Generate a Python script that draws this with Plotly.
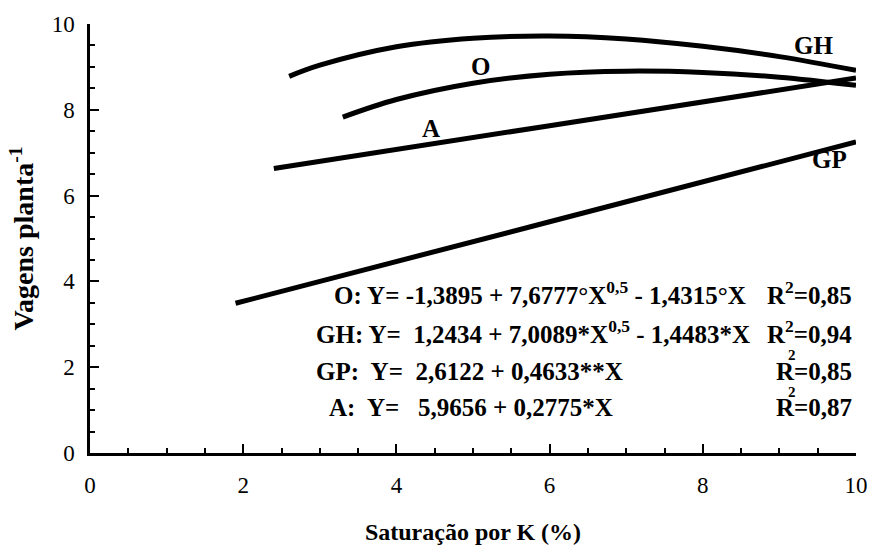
import plotly.graph_objects as go

# Values
gh_x = [2.6, 3, 4, 5, 6, 7, 8, 9, 10]
gh_y = [8.78, 9.04, 9.47, 9.67, 9.72, 9.65, 9.48, 9.24, 8.92]
o_x = [3.3, 4, 5, 6, 7, 8, 9, 10]
o_y = [7.83, 8.24, 8.62, 8.83, 8.90, 8.87, 8.76, 8.57]
a_x = [2.4, 6, 10]
a_y = [6.63, 7.63, 8.74]
gp_x = [1.9, 6, 10]
gp_y = [3.49, 5.39, 7.25]

curve_labels = ["GH", "O", "A", "GP"]
eq_lines = [
    "O: Y= -1,3895 + 7,6777°X<sup>0,5</sup> - 1,4315°X",
    "GH: Y=  1,2434 + 7,0089*X<sup>0,5</sup> - 1,4483*X",
    "GP:  Y=  2,6122 + 0,4633**X",
    "A:  Y=   5,9656 + 0,2775*X",
]
r2_values = ["0,85", "0,94", "0,85", "0,87"]

FONT = "Liberation Serif, Times New Roman, Times, serif"
fig = go.Figure()
for xs, ys in [(gh_x, gh_y), (o_x, o_y), (a_x, a_y), (gp_x, gp_y)]:
    fig.add_trace(go.Scatter(x=xs, y=ys, mode="lines",
                             line=dict(color="black", width=5, shape="spline"),
                             showlegend=False, hoverinfo="skip"))

label_pos = [(9.45, 9.5), (5.1, 9.02), (4.45, 7.57), (9.65, 6.84)]
for lab, (lx, ly) in zip(curve_labels, label_pos):
    fig.add_annotation(x=lx, y=ly, text=f"<b>{lab}</b>", showarrow=False,
                       font=dict(family=FONT, size=25, color="black"))

eq_y = [3.73, 2.82, 1.91, 1.05]
eq_x0 = [3.16, 2.93, 2.93, 3.10]
for i, (t, yv, x0) in enumerate(zip(eq_lines, eq_y, eq_x0)):
    fig.add_annotation(x=x0, y=yv, text=f"<b>{t}</b>", showarrow=False,
                       xanchor="left", font=dict(family=FONT, size=25, color="black"))
    if i < 2:
        fig.add_annotation(x=9.97, y=yv, text=f"<b>R<sup>2</sup>={r2_values[i]}</b>",
                           showarrow=False, xanchor="right",
                           font=dict(family=FONT, size=25, color="black"))
    else:
        fig.add_annotation(x=9.97, y=yv, text=f"<b>R={r2_values[i]}</b>",
                           showarrow=False, xanchor="right",
                           font=dict(family=FONT, size=25, color="black"))
        fig.add_annotation(x=9.16, y=yv + 0.38, text="<b>2</b>", showarrow=False,
                           font=dict(family=FONT, size=15, color="black"))

axis_common = dict(showline=True, linecolor="black", linewidth=2.5, ticks="inside",
                   tickcolor="black", tickwidth=2, ticklen=9, showgrid=False,
                   zeroline=False, tickfont=dict(family=FONT, size=23, color="black"),
                   minor=dict(dtick=0.5, ticks="inside", ticklen=5, tickcolor="black",
                              tickwidth=1.5, showgrid=False),
                   tickformat="d")
fig.update_xaxes(range=[0, 10], dtick=2, tick0=0, ticklabelstandoff=10,
                 title=dict(text="<b>Saturação por K (%)</b>",
                            font=dict(family=FONT, size=24, color="black"), standoff=26),
                 **axis_common)
fig.update_yaxes(range=[0, 10], dtick=2, tick0=0, ticklabelstandoff=8,
                 title=dict(text="<b>Vagens planta<sup>-1</sup></b>",
                            font=dict(family=FONT, size=28, color="black"), standoff=10),
                 **axis_common)
fig.update_layout(width=880, height=553, margin=dict(l=90, r=15, t=20, b=93),
                  plot_bgcolor="white", paper_bgcolor="white",
                  font=dict(family=FONT, color="black"))
fig.write_html("out.html")
